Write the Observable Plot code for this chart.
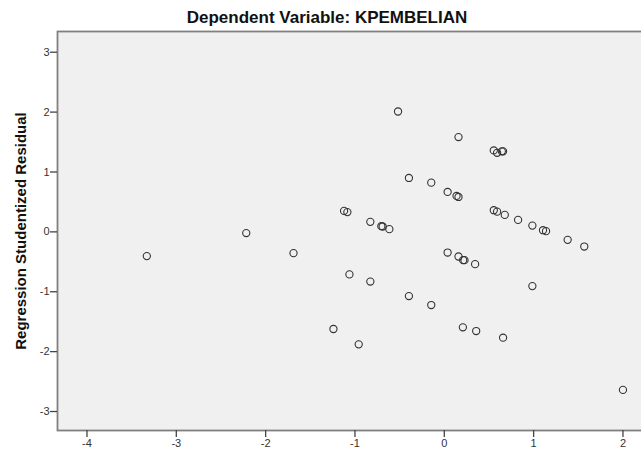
<!DOCTYPE html>
<html><head><meta charset="utf-8">
<script src="https://cdn.jsdelivr.net/npm/d3@7"></script>
<script src="https://cdn.jsdelivr.net/npm/@observablehq/plot@0.6"></script>
<style>
body{margin:0;background:#fff;font-family:"Liberation Sans",Arial,sans-serif;}
#wrap{position:relative;width:641px;height:454px;overflow:hidden;}
#title{position:absolute;top:9px;left:0;width:654px;text-align:center;font-weight:bold;font-size:17px;color:#111;line-height:1;}
#wrap svg{position:absolute;left:0;top:0;}
</style></head><body>
<div id="wrap"><div id="title">Dependent Variable: KPEMBELIAN</div></div>
<script>
// Regression Standardized Predicted Value (x) and Regression Studentized Residual (y)
const predicted = [-3.33,-2.217,-1.688,-1.122,-1.085,-0.828,-0.705,-0.69,-0.615,-1.062,-0.828,
  -0.518,0.159,0.554,0.591,0.644,0.658,-0.396,-0.146,0.037,0.137,0.159,0.554,0.591,0.677,0.826,
  0.986,1.105,1.139,1.381,1.567,0.037,0.159,0.211,0.226,0.345,0.986,-0.396,-0.146,0.208,0.357,
  0.658,-1.241,-0.958,2.0];
const residual = [-0.405,-0.02,-0.355,0.35,0.33,0.167,0.095,0.09,0.045,-0.71,-0.83,
  2.01,1.583,1.36,1.32,1.345,1.345,0.9,0.822,0.667,0.6,0.583,0.362,0.338,0.283,0.2,
  0.105,0.028,0.012,-0.133,-0.245,-0.345,-0.411,-0.472,-0.472,-0.539,-0.906,-1.072,-1.222,-1.594,-1.656,
  -1.767,-1.622,-1.878,-2.639];
const xTicks = [-4,-3,-2,-1,0,1,2];
const yTicks = [-3,-2,-1,0,1,2,3];
const yLabel = "Regression Studentized Residual";

const data = predicted.map((x, i) => ({x, y: residual[i]}));

const chart = Plot.plot({
  width: 641, height: 454,
  marginLeft: 57, marginTop: 31, marginBottom: 24, marginRight: -2,
  x: {domain: [-4.33, 2.23]},
  y: {domain: [-3.317, 3.346]},
  style: {fontFamily: "'Liberation Sans', Arial, sans-serif", fontSize: "11px", background: "transparent", color: "#333"},
  marks: [
    Plot.frame({fill: "#f0f0f0", stroke: "#808080", strokeWidth: 1.8}),
    Plot.axisX({ticks: xTicks, tickFormat: d => String(d), tickSize: 7, tickPadding: 2, label: null, stroke: "#444", strokeWidth: 1.3, fill: "#333"}),
    Plot.axisY({ticks: yTicks, tickFormat: d => String(d), tickSize: 7, tickPadding: 1, label: null, stroke: "#444", strokeWidth: 1.3, fill: "#333"}),
    Plot.text([yLabel], {frameAnchor: "left", text: d => d, rotate: -90, textAnchor: "middle", dx: -36, fontWeight: "bold", fontSize: 15, fill: "#111"}),
    Plot.dot(data, {x: "x", y: "y", r: 3.6, stroke: "#333", strokeWidth: 1.1, fill: "none"})
  ]
});
document.getElementById("wrap").prepend(chart);
</script>
</body></html>
